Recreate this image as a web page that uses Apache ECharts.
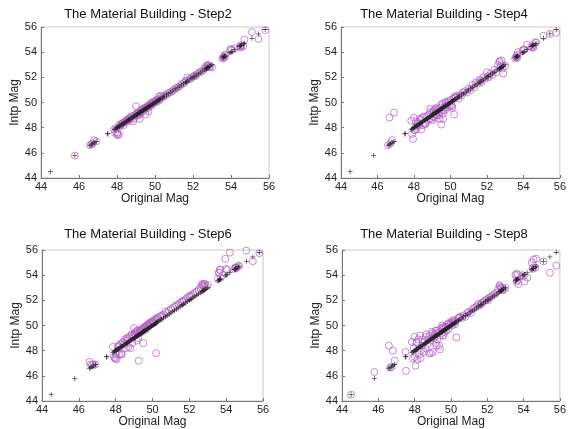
<!DOCTYPE html>
<html>
<head>
<meta charset="utf-8">
<script src="https://cdn.jsdelivr.net/npm/echarts@6/dist/echarts.min.js"></script>
<style>
html,body{margin:0;padding:0;background:#fff;}
#chart{width:569px;height:429px;}
</style>
</head>
<body>
<div id="chart"></div>
<script>
// ---- data ----
const panelTitles = [
  'The Material Building - Step2',
  'The Material Building - Step4',
  'The Material Building - Step6',
  'The Material Building - Step8'
];
const xAxisName = 'Original Mag';
const yAxisName = 'Intp Mag';
const axisTicks = [44, 46, 48, 50, 52, 54, 56];

// original magnitudes (x), shared by all panels; black "+" marks lie at (x, x)
const origMag = [
  44.50, 45.78, 46.58, 46.65, 46.72, 46.80, 46.90, 47.50, 47.52, 47.85,
  47.90, 47.95, 48.00, 48.05, 48.10, 48.15, 48.20, 48.25, 48.30, 48.35,
  48.40, 48.45, 48.50, 48.55, 48.60, 48.65, 48.70, 48.75, 48.80, 48.85,
  48.90, 48.95, 49.00, 49.05, 49.10, 49.15, 49.20, 49.25, 49.30, 49.35,
  49.40, 49.45, 49.50, 49.55, 49.60, 49.65, 49.70, 49.75, 49.80, 49.85,
  49.90, 49.95, 50.00, 50.05, 50.10, 50.15, 50.20, 50.30, 50.40, 50.50,
  50.60, 50.70, 50.80, 50.90, 51.00, 51.10, 51.20, 51.30, 51.40, 51.50,
  51.60, 51.70, 51.80, 51.90, 52.00, 52.10, 52.20, 52.30, 52.40, 52.50,
  52.60, 52.70, 52.75, 52.80, 52.90, 53.00, 53.55, 53.60, 53.65, 53.70,
  53.95, 54.05, 54.20, 54.45, 54.50, 54.55, 54.65, 54.70, 55.10, 55.45,
  55.80,
  48.02, 48.12, 48.33, 48.62, 48.88, 49.02, 49.22, 49.48, 49.58, 49.72,
  49.08, 49.18, 49.28, 49.38, 49.52, 49.62, 49.88, 50.08, 50.22, 50.45,
  53.62, 53.68, 54.00, 54.52, 52.68, 52.78, 52.85, 51.65, 52.05, 50.25
];

// interpolated magnitudes (y) per step, same order as origMag (null = not shown)
const intpStep2 = [
  null, 45.78, 46.60, 46.68, 46.75, 47.00, 46.90, null, null, 47.85,
  47.60, 47.95, 47.50, 47.40, 47.45, 48.25, 48.20, 48.30, 48.35, 48.20,
  48.45, 48.50, 48.60, 48.50, 48.70, 48.60, 48.80, 48.90, 48.75, 48.50,
  48.70, 49.00, 49.70, 49.10, 49.20, 49.00, 48.70, 49.40, 49.30, 49.50,
  49.50, 49.40, 49.05, 49.60, 49.70, 49.30, 49.80, 49.90, 49.75, 50.00,
  49.90, 50.10, 50.00, 50.15, 50.20, 50.10, 50.45, 50.55, 50.40, 50.55,
  50.60, 50.75, 50.80, 50.90, 51.00, 51.15, 51.20, 51.30, 51.45, 51.55,
  51.65, 52.00, 51.85, 51.90, 52.05, 52.10, 52.25, 52.35, 52.45, 52.50,
  52.70, 52.90, 52.95, 53.00, 52.85, 52.80, 53.50, 53.55, 53.60, 53.80,
  54.20, 54.15, 54.30, 54.40, 54.45, 54.40, 54.50, 55.00, 55.60, 55.05,
  55.75,
  47.60, 48.10, 48.40, 48.65, 48.95, 49.10, 49.10, 49.55, 49.65, 49.75,
  49.00, 49.25, 49.20, 49.40, 49.60, 49.55, 49.95, 50.10, 50.30, 50.50,
  53.65, 53.75, 54.25, 54.55, 52.75, 52.85, 52.80, 51.75, 52.10, 50.20
];
const intpStep4 = [
  null, null, 46.60, 48.80, 46.75, 47.00, 49.20, null, null, 48.55,
  47.50, 47.10, 48.80, 47.80, 48.50, 47.90, 48.40, 48.30, 48.20, 48.60,
  47.85, 48.80, 48.20, 48.90, 48.40, 48.30, 48.90, 48.60, 49.00, 48.70,
  49.50, 48.70, 49.20, 48.90, 49.45, 48.80, 49.50, 49.00, 49.40, 49.30,
  48.70, 49.60, 48.25, 49.90, 48.70, 49.60, 49.40, 50.00, 49.80, 49.60,
  50.10, 49.80, 50.20, 49.80, 49.60, 50.30, 49.05, 50.40, 50.50, 50.60,
  50.55, 50.80, 50.90, 50.80, 51.10, 51.00, 51.40, 51.20, 51.60, 51.50,
  51.80, 51.60, 52.00, 51.90, 52.40, 52.00, 52.30, 52.20, 52.60, 52.40,
  53.00, 53.30, 52.80, 53.35, 52.30, 52.90, 53.50, 53.60, 53.55, 54.00,
  54.10, 54.20, 54.60, 54.40, 54.50, 54.35, 54.80, 54.75, 55.30, 55.45,
  55.55,
  47.80, 48.10, 48.70, 48.30, 49.20, 48.60, 49.00, 49.30, 49.10, 50.00,
  49.30, 49.10, 49.60, 49.00, 49.80, 49.40, 50.00, 49.70, 50.40, 50.30,
  53.70, 53.80, 54.20, 54.45, 53.20, 52.95, 52.70, 51.70, 52.10, 50.50
];
const intpStep6 = [
  null, null, 47.10, 46.90, 46.85, 46.90, 46.90, null, null, 48.30,
  47.50, 47.40, 47.40, 47.30, 48.00, 48.40, 47.70, 48.50, 47.70, 48.60,
  48.70, 48.50, 48.90, 48.20, 48.80, 49.00, 48.30, 49.10, 48.20, 49.20,
  48.60, 49.10, 49.80, 49.30, 49.50, 48.80, 49.60, 47.20, 49.40, 49.60,
  49.70, 49.50, 48.60, 49.80, 49.90, 49.70, 50.00, 50.10, 50.00, 50.20,
  50.10, 50.30, 50.25, 50.40, 50.30, 50.50, 47.80, 50.60, 50.70, 50.80,
  50.85, 51.10, 51.00, 51.20, 51.30, 51.40, 51.50, 51.60, 51.70, 51.80,
  51.90, 52.00, 52.10, 52.20, 52.30, 52.40, 52.50, 52.60, 52.70, 52.80,
  53.00, 53.30, 53.20, 53.30, 53.10, 53.20, 53.70, 54.20, 54.40, 53.80,
  55.30, 54.40, 55.80, 54.50, 54.60, 54.55, 54.70, 54.75, 55.95, 55.10,
  55.75,
  47.70, 48.30, 47.75, 49.00, 49.30, 49.40, 49.00, 49.70, 49.90, 50.00,
  49.20, 49.60, 49.50, 49.60, 49.80, 49.90, 50.20, 50.20, 50.50, 50.70,
  54.20, 54.45, 54.50, 54.60, 53.20, 53.10, 53.30, 51.90, 52.30, 50.60
];
const intpStep8 = [
  44.50, 46.30, 48.40, 46.65, 46.70, 48.00, 47.20, 47.90, 46.40, 48.70,
  47.40, 48.20, 49.10, 46.80, 48.60, 47.30, 48.90, 47.70, 49.20, 48.00,
  48.40, 48.90, 47.90, 48.70, 48.20, 49.30, 48.50, 48.90, 47.80, 49.20,
  47.80, 49.50, 47.90, 49.00, 49.30, 48.60, 49.60, 48.90, 49.40, 48.40,
  48.10, 49.70, 49.40, 49.20, 49.90, 49.50, 49.80, 49.60, 50.10, 49.70,
  50.00, 50.10, 50.20, 50.00, 50.30, 50.20, 50.40, 49.05, 50.60, 50.70,
  50.60, 50.80, 50.70, 51.00, 51.10, 51.00, 51.30, 51.40, 51.50, 51.70,
  51.60, 51.80, 51.90, 52.00, 52.10, 52.20, 52.30, 52.40, 52.50, 52.60,
  52.90, 53.10, 53.00, 52.90, 52.85, 53.00, 54.00, 54.10, 53.60, 53.30,
  54.00, 53.50, 53.80, 55.00, 54.50, 55.25, 54.60, 55.30, 55.10, 54.20,
  54.75,
  47.50, 48.70, 47.40, 49.10, 48.80, 49.40, 48.40, 49.80, 49.20, 49.90,
  49.10, 49.60, 49.40, 49.20, 50.00, 49.80, 50.20, 50.40, 50.10, 50.60,
  53.50, 54.05, 53.90, 54.60, 53.20, 53.00, 52.80, 51.70, 52.00, 50.30
];
const intpSteps = [intpStep2, intpStep4, intpStep6, intpStep8];

// ---- layout / style ----
const FONT = 'Liberation Sans, Arial, sans-serif';
const gridBoxes = [
  {left: 41,  top: 27,  width: 228, height: 151},
  {left: 341, top: 27,  width: 220, height: 151},
  {left: 42,  top: 250, width: 221, height: 151},
  {left: 342, top: 250, width: 220, height: 151}
];
const titleCenters = [[148, 8], [444, 8], [148, 228], [444, 228]];
const PURPLE = '#b25fc4';
const PLUS = 'path://M4.2,0 H5.8 V4.2 H10 V5.8 H5.8 V10 H4.2 V5.8 H0 V4.2 H4.2 Z';

const tickMin = axisTicks[0], tickMax = axisTicks[axisTicks.length - 1];
const tickStep = axisTicks[1] - axisTicks[0];

function axisCommon(i, isX) {
  return {
    type: 'value', gridIndex: i, min: tickMin, max: tickMax, interval: tickStep,
    name: isX ? xAxisName : yAxisName,
    nameLocation: 'middle',
    nameGap: isX ? 13 : 17,
    nameTextStyle: {fontFamily: FONT, fontSize: 12, color: '#222'},
    axisLine: {show: true, onZero: false, lineStyle: {color: '#777', width: 1}},
    axisTick: {show: true, inside: true, length: 3, lineStyle: {color: '#777'}},
    axisLabel: {fontFamily: FONT, fontSize: 11, color: '#222', margin: isX ? 3 : 4},
    splitLine: {show: false}
  };
}

const option = {
  backgroundColor: '#fff',
  animation: false,
  title: panelTitles.map((t, i) => ({
    text: t, left: titleCenters[i][0], top: titleCenters[i][1], textAlign: 'center', padding: 0,
    textStyle: {fontFamily: FONT, fontSize: 13, fontWeight: 'normal', color: '#111'}
  })),
  grid: gridBoxes.map(b => Object.assign({show: true, borderColor: '#c8c8c8', borderWidth: 1, backgroundColor: 'transparent'}, b)),
  xAxis: gridBoxes.map((b, i) => axisCommon(i, true)),
  yAxis: gridBoxes.map((b, i) => axisCommon(i, false)),
  series: []
};

intpSteps.forEach((arr, i) => {
  const pts = [];
  origMag.forEach((x, k) => { if (arr[k] != null) pts.push([x, arr[k]]); });
  option.series.push({
    type: 'scatter', xAxisIndex: i, yAxisIndex: i, data: pts,
    symbol: 'circle', symbolSize: 7,
    itemStyle: {color: 'rgba(0,0,0,0)', borderColor: PURPLE, borderWidth: 0.9}, z: 2
  });
  option.series.push({
    type: 'scatter', xAxisIndex: i, yAxisIndex: i,
    data: origMag.map(x => [x, x]),
    symbol: PLUS, symbolSize: 5,
    itemStyle: {color: '#222'}, z: 3
  });
});

const chart = echarts.init(document.getElementById('chart'), null, {renderer: 'canvas'});
chart.setOption(option);
</script>
</body>
</html>
